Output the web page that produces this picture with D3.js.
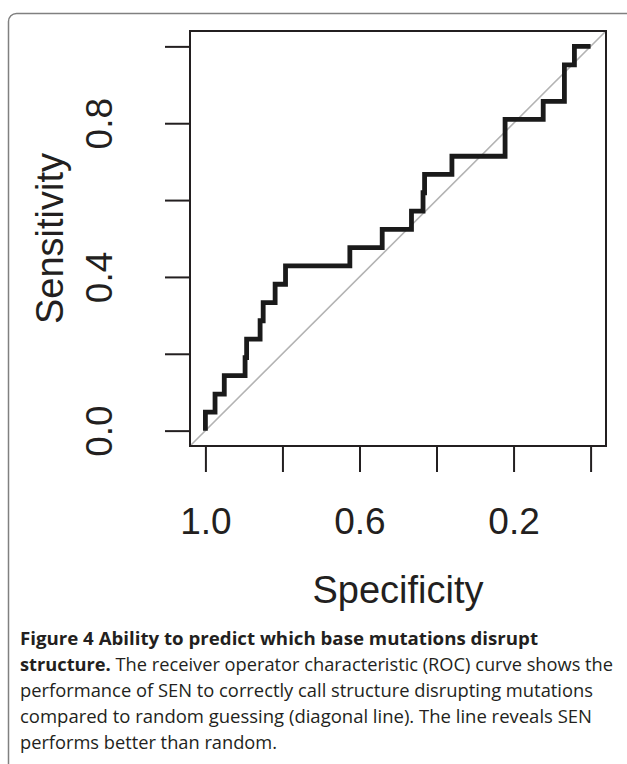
<!DOCTYPE html>
<html>
<head>
<meta charset="utf-8">
<script src="https://cdn.jsdelivr.net/npm/d3@7"></script>
<style>
  body { margin: 0; background: #fff; }
  svg { display: block; }
</style>
</head>
<body>
<div class="roc-chart"></div>
<script>
// ROC curve vertices (specificity is plotted reversed)
var specificity = [1.000, 1.000, 0.975, 0.975, 0.951, 0.951, 0.897, 0.897, 0.893, 0.893,
                   0.858, 0.858, 0.850, 0.850, 0.819, 0.819, 0.792, 0.792, 0.625, 0.625,
                   0.541, 0.541, 0.465, 0.465, 0.435, 0.435, 0.431, 0.431, 0.360, 0.360,
                   0.222, 0.222, 0.123, 0.123, 0.068, 0.068, 0.042, 0.042, 0.000];
var sensitivity = [0.000, 0.048, 0.048, 0.095, 0.095, 0.143, 0.143, 0.190, 0.190, 0.238,
                   0.238, 0.286, 0.286, 0.333, 0.333, 0.381, 0.381, 0.429, 0.429, 0.476,
                   0.476, 0.524, 0.524, 0.571, 0.571, 0.619, 0.619, 0.667, 0.667, 0.714,
                   0.714, 0.810, 0.810, 0.857, 0.857, 0.952, 0.952, 1.000, 1.000];

var xTicks = [1.0, 0.8, 0.6, 0.4, 0.2, 0.0];
var xTickLabels = ["1.0", "", "0.6", "", "0.2", ""];
var yTicks = [0.0, 0.2, 0.4, 0.6, 0.8, 1.0];
var yTickLabels = ["0.0", "", "0.4", "", "0.8", ""];

var captionLines = [
  [{ b: true, t: "Figure 4 Ability to predict which base mutations disrupt" }],
  [{ b: true, t: "structure." }, { b: false, t: " The receiver operator characteristic (ROC) curve shows the" }],
  [{ b: false, t: "performance of SEN to correctly call structure disrupting mutations" }],
  [{ b: false, t: "compared to random guessing (diagonal line). The line reveals SEN" }],
  [{ b: false, t: "performs better than random." }]
];
var captionWidths = [518, 593, 573, 572, 257];

var w = 627;
var h = 764;
var ink = "#231f20";

// plot box (R style: 4% padding on each side of the data range)
var box = { left: 190, right: 606, top: 31, bottom: 446 };

var x = d3.scaleLinear()
          .domain([1.04, -0.04])
          .range([box.left, box.right]);
var y = d3.scaleLinear()
          .domain([-0.04, 1.04])
          .range([box.bottom, box.top]);

var svg = d3.select(".roc-chart")
            .append("svg")
            .attr("width", w)
            .attr("height", h);

svg.append("rect")
   .attr("width", w)
   .attr("height", h)
   .attr("fill", "#fff");

// figure frame, runs off the right and bottom edges
svg.append("rect")
   .attr("x", 8.5)
   .attr("y", 13.5)
   .attr("width", 700)
   .attr("height", 800)
   .attr("rx", 8)
   .attr("fill", "none")
   .attr("stroke", "#808080")
   .attr("stroke-width", 1.5);

// diagonal reference line
svg.append("line")
   .attr("x1", x(1.04))
   .attr("y1", y(-0.04))
   .attr("x2", x(-0.04))
   .attr("y2", y(1.04))
   .attr("stroke", "#b3b3b3")
   .attr("stroke-width", 1.6);

// ROC curve
var rocPoints = specificity.map(function(s, i) { return [s, sensitivity[i]]; });
var line = d3.line()
             .x(function(d) { return x(d[0]); })
             .y(function(d) { return y(d[1]); });

svg.append("path")
   .datum(rocPoints)
   .attr("d", line)
   .attr("fill", "none")
   .attr("stroke", "#1a1a1a")
   .attr("stroke-width", 4.8)
   .attr("stroke-linejoin", "miter")
   .attr("stroke-linecap", "butt");

// box
svg.append("rect")
   .attr("x", box.left)
   .attr("y", box.top)
   .attr("width", box.right - box.left)
   .attr("height", box.bottom - box.top)
   .attr("fill", "none")
   .attr("stroke", ink)
   .attr("stroke-width", 2);

// x axis
var xAxis = d3.axisBottom(x)
              .tickValues(xTicks)
              .tickSize(26)
              .tickPadding(36)
              .tickFormat(function(d, i) { return xTickLabels[i]; });

var gx = svg.append("g")
            .attr("transform", "translate(0," + box.bottom + ")")
            .call(xAxis);
gx.select(".domain").remove();
gx.selectAll("line").attr("stroke", ink).attr("stroke-width", 2);
gx.selectAll("text")
  .attr("fill", ink)
  .style("font-family", "'Liberation Sans', Arial, sans-serif")
  .style("font-size", "37px");

// y axis, labels rotated like R's default las = 0
var yAxis = d3.axisLeft(y)
              .tickValues(yTicks)
              .tickSize(25)
              .tickFormat(function(d, i) { return yTickLabels[i]; });

var gy = svg.append("g")
            .attr("transform", "translate(" + box.left + ",0)")
            .call(yAxis);
gy.select(".domain").remove();
gy.selectAll("line").attr("stroke", ink).attr("stroke-width", 2);
gy.selectAll("text")
  .attr("fill", ink)
  .attr("x", 0)
  .attr("y", -78)
  .attr("dy", null)
  .attr("text-anchor", "middle")
  .attr("transform", "rotate(-90)")
  .style("font-family", "'Liberation Sans', Arial, sans-serif")
  .style("font-size", "37px");

// axis titles
svg.append("text")
   .attr("x", (box.left + box.right) / 2)
   .attr("y", 603)
   .attr("text-anchor", "middle")
   .attr("fill", ink)
   .style("font-family", "'Liberation Sans', Arial, sans-serif")
   .style("font-size", "38px")
   .text("Specificity");

svg.append("text")
   .attr("transform", "translate(63," + (box.top + box.bottom) / 2 + ") rotate(-90)")
   .attr("text-anchor", "middle")
   .attr("fill", ink)
   .style("font-family", "'Liberation Sans', Arial, sans-serif")
   .style("font-size", "38px")
   .text("Sensitivity");

// caption
var cap = svg.append("g")
             .style("font-family", "'Open Sans', 'Noto Sans', sans-serif")
             .style("font-size", "18px")
             .attr("fill", ink);

captionLines.forEach(function(parts, i) {
  var t = cap.append("text")
             .attr("x", 20)
             .attr("y", 645 + i * 26)
             .attr("textLength", captionWidths[i])
             .attr("lengthAdjust", "spacingAndGlyphs");
  parts.forEach(function(p) {
    t.append("tspan")
     .attr("font-weight", p.b ? 700 : 400)
     .text(p.t);
  });
});
</script>
</body>
</html>
